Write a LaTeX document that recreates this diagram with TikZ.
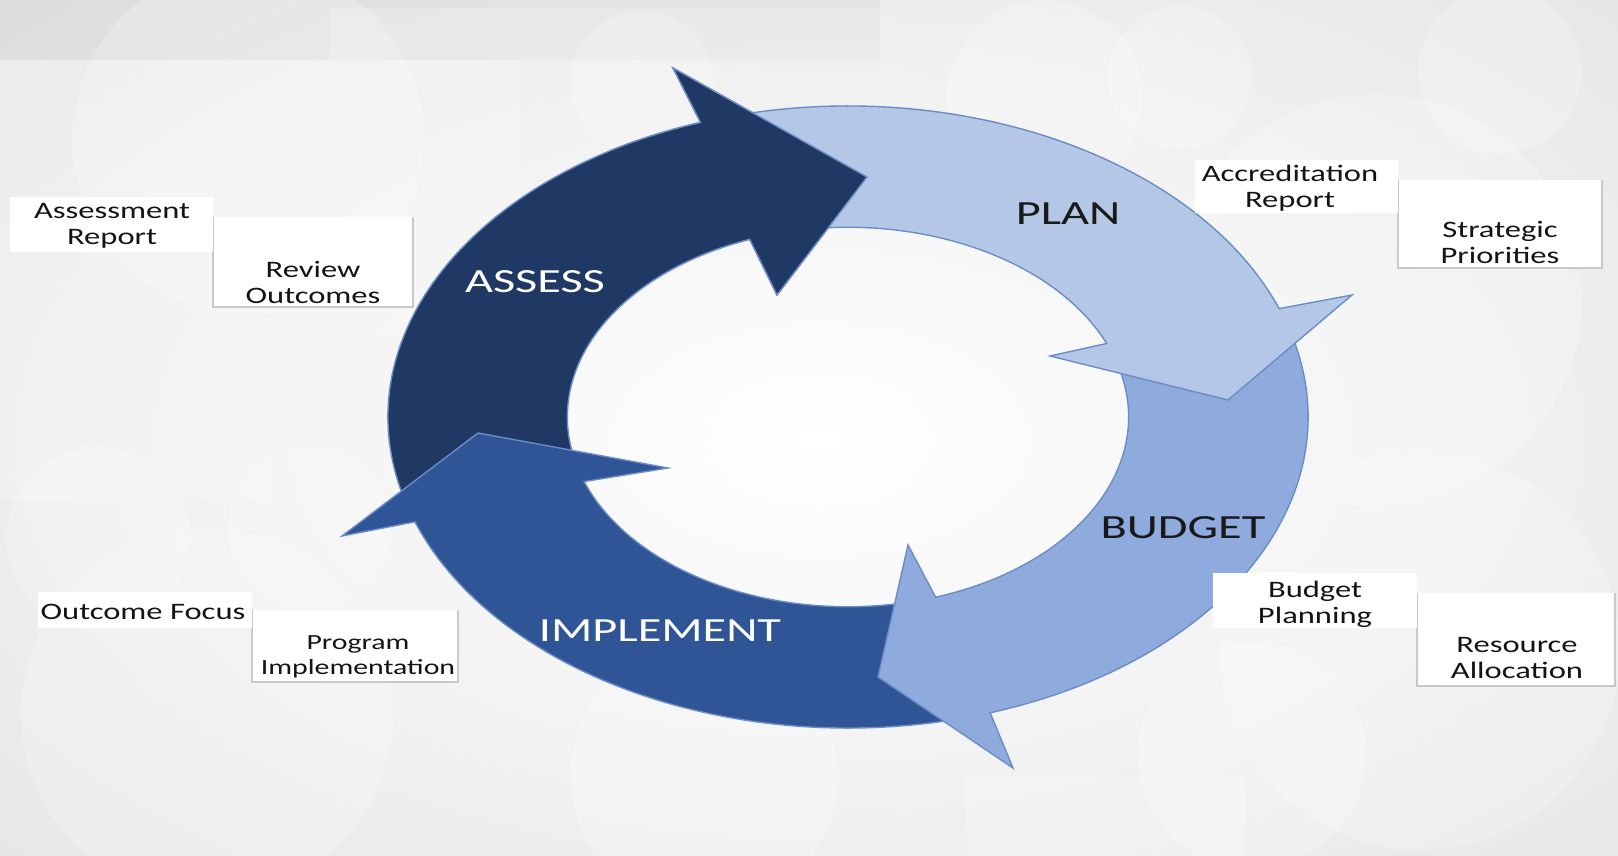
\documentclass[tikz,border=0pt]{standalone}
\usepackage{fontspec}
\setmainfont{Carlito}
\newfontfamily\widefont[FakeStretch=1.38]{Carlito}
\newfontfamily\bigfont[FakeStretch=1.43]{Carlito}
\usetikzlibrary{calc}
\definecolor{assessc}{HTML}{203864}
\definecolor{planc}{HTML}{B4C7E7}
\definecolor{budgetc}{HTML}{8FAADC}
\definecolor{implc}{HTML}{2F5597}
\definecolor{edgec}{HTML}{6A8CC7}
\definecolor{bgc}{HTML}{D8D8D8}
\definecolor{shadowc}{HTML}{C8C8C8}
\tikzset{
  ringarrow/.style={draw=edgec, line width=0.7pt, line join=miter},
  biglabel/.style={font=\bigfont\fontsize{16.9}{20}\selectfont, inner sep=0pt},
  smalllabel/.style={font=\widefont\fontsize{11.8}{13}\selectfont, inner sep=0pt, align=center, text=black!92},
  boxa/.style={fill=white},
  boxb/.style={fill=white},
  boxshadow/.style={draw=shadowc, line width=0.7pt},
  bgcircle/.style={fill=white, opacity=0.22},
  bgrect/.style={fill=white, opacity=0.18}
}
\begin{document}
\begin{tikzpicture}[x=0.5pt,y=-0.5pt]
\useasboundingbox (0,0) rectangle (1618,856);
\coordinate (C) at (848,417);
% ---------- background ----------
\fill[bgc] (0,0) rectangle (1618,856);
\begin{scope}
  \clip (0,0) rectangle (1618,856);
  \shade[inner color=white, outer color=bgc] (820,440) ellipse [x radius=900pt, y radius=500pt];
  \fill[black, opacity=0.04] (0,0) rectangle (880,60);
  \fill[bgrect] (0,60) rectangle (520,335);
  \fill[bgrect] (330,8) rectangle (880,60);
  \fill[bgrect] (0,335) rectangle (270,500);
  \fill[bgrect] (965,775) rectangle (1245,856);
  \fill[bgcircle] (248,140) circle [radius=88pt];
  \fill[bgcircle] (642,83) circle [radius=36pt];
  \fill[bgcircle] (1045,98) circle [radius=49pt];
  \fill[bgcircle] (1180,78) circle [radius=36pt];
  \fill[bgcircle] (1500,72) circle [radius=41pt];
  \fill[bgcircle] (1376,300) circle [radius=103pt];
  \fill[bgcircle] (98,538) circle [radius=46pt];
  \fill[bgcircle] (310,528) circle [radius=41pt];
  \fill[bgcircle] (207,714) circle [radius=93pt];
  \fill[bgcircle] (704,776) circle [radius=67pt];
  \fill[bgcircle] (1252,755) circle [radius=57pt];
  \fill[bgcircle] (1420,650) circle [radius=100pt];
\end{scope}
% ---------- cycle arrows ----------
% ASSESS (drawn first)
\path[ringarrow, fill=assessc]
  ($(C)+(196:230pt and 155.5pt)$) arc[start angle=196, end angle=108.7, x radius=230pt, y radius=155.5pt]
  -- (673,68) -- (867,177) -- (777,295)
  -- ($(C)+(110.5:140.3pt and 94.855pt)$) arc[start angle=110.5, end angle=196, x radius=140.3pt, y radius=94.855pt]
  -- cycle;
% IMPLEMENT
\path[ringarrow, fill=implc]
  ($(C)+(284:230pt and 155.5pt)$) arc[start angle=284, end angle=199.7, x radius=230pt, y radius=155.5pt]
  -- (342,536) -- (478,433) -- (668,468)
  -- ($(C)+(199.9:140.3pt and 94.855pt)$) arc[start angle=199.9, end angle=284, x radius=140.3pt, y radius=94.855pt]
  -- cycle;
% BUDGET
\path[ringarrow, fill=budgetc]
  ($(C)+(16:230pt and 155.5pt)$) arc[start angle=16, end angle=-72, x radius=230pt, y radius=155.5pt]
  -- (1013,768) -- (878,677) -- (908,545)
  -- ($(C)+(-71.8:140.3pt and 94.855pt)$) arc[start angle=-71.8, end angle=16, x radius=140.3pt, y radius=94.855pt]
  -- cycle;
% PLAN
\path[ringarrow, fill=planc]
  ($(C)+(105:230pt and 155.5pt)$) arc[start angle=105, end angle=20.4, x radius=230pt, y radius=155.5pt]
  -- (1352,295) -- (1228,400) -- (1050,356)
  -- ($(C)+(22.8:140.3pt and 94.855pt)$) arc[start angle=22.8, end angle=105, x radius=140.3pt, y radius=94.855pt]
  -- cycle;
% ASSESS head again, on top of the PLAN tail
\begin{scope}
  \clip (610,30) rectangle (900,320);
  \path[ringarrow, fill=assessc]
    ($(C)+(196:230pt and 155.5pt)$) arc[start angle=196, end angle=108.7, x radius=230pt, y radius=155.5pt]
    -- (673,68) -- (867,177) -- (777,295)
    -- ($(C)+(110.5:140.3pt and 94.855pt)$) arc[start angle=110.5, end angle=196, x radius=140.3pt, y radius=94.855pt]
    -- cycle;
\end{scope}
% ---------- cycle labels ----------
\node[biglabel, text=white] (assess) at (535,282) {ASSESS};
\node[biglabel, text=black!90] (plan) at (1068,214) {PLAN};
\node[biglabel, text=black!90] (budget) at (1183,528) {BUDGET};
\node[biglabel, text=white] (implement) at (660,631) {IMPLEMENT};
% ---------- side boxes ----------
\fill[boxb] (213,217) rectangle (413,307);
\draw[boxshadow] (213,217) -- (213,307) -- (413,307) -- (413,217);
\fill[boxa] (10,197) rectangle (213,252);
\fill[boxb] (1398,180) rectangle (1602,268);
\draw[boxshadow] (1398,180) -- (1398,268) -- (1602,268) -- (1602,180);
\fill[boxa] (1195,160) rectangle (1398,213);
\fill[boxb] (252,610) rectangle (458,682);
\draw[boxshadow] (252,610) -- (252,682) -- (458,682) -- (458,610);
\fill[boxa] (38,592) rectangle (252,628);
\fill[boxb] (1417,593) rectangle (1615,686);
\draw[boxshadow] (1417,593) -- (1417,686) -- (1615,686) -- (1615,593);
\fill[boxa] (1213,573) rectangle (1417,628);
\node[smalllabel] (assessrep) at (112,226) {Assessment\\Report};
\node[smalllabel] (review) at (313,282) {Review\\Outcomes};
\node[smalllabel] (accred) at (1290,188) {Accreditation\\Report};
\node[smalllabel] (strat) at (1500,242) {Strategic\\Priorities};
\node[smalllabel] (outfocus) at (143,612) {Outcome Focus};
\node[smalllabel, font=\widefont\fontsize{10.8}{12.2}\selectfont] (progimpl) at (358,657) {Program\\Implementation};
\node[smalllabel] (budplan) at (1315,604) {Budget\\Planning};
\node[smalllabel] (resalloc) at (1517,658) {Resource\\Allocation};
\end{tikzpicture}
\end{document}
